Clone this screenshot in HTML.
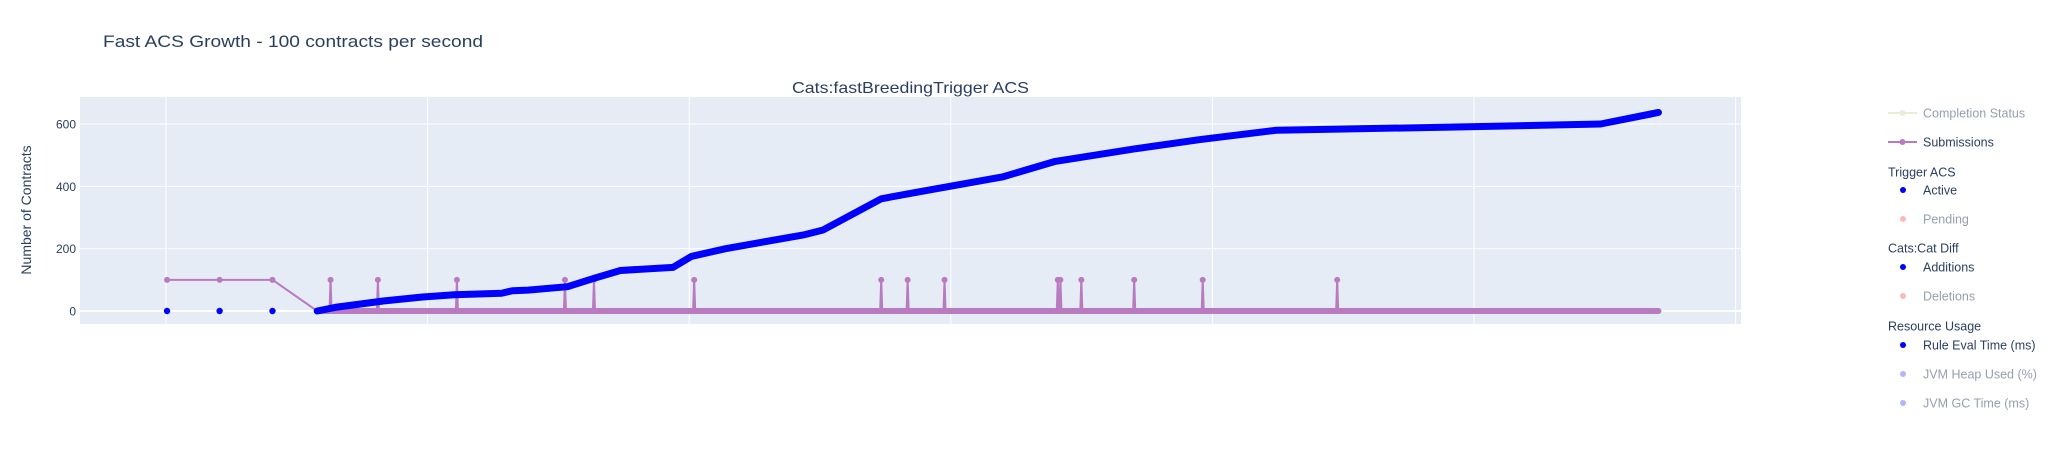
<!DOCTYPE html>
<html><head><meta charset="utf-8">
<style>
html,body{margin:0;padding:0;background:#fff;}
svg{display:block;font-family:"Liberation Sans",sans-serif;}
</style></head>
<body>
<svg id="chart" width="2063" height="471" viewBox="0 0 2063 471" xmlns="http://www.w3.org/2000/svg">
<text x="103" y="47" font-size="17" fill="#2a3f5f" textLength="380" lengthAdjust="spacingAndGlyphs">Fast ACS Growth - 100 contracts per second</text>
<text x="792" y="93" font-size="16" fill="#2a3f5f" textLength="237" lengthAdjust="spacingAndGlyphs">Cats:fastBreedingTrigger ACS</text>
<rect x="80" y="97" width="1661" height="227" fill="#e5ecf6"/>
<g id="grid"></g>
<g id="marks"></g>
<text transform="translate(31,210) rotate(-90)" text-anchor="middle" font-size="14" fill="#2a3f5f">Number of Contracts</text>
<g id="legend"></g>
</svg>
<script>
// data
const activeX = [0.004, 0.205, 0.407];
const activeStartY = [0, 0, 0];
const blueX = [0.578,0.649,0.83,0.981,1.102,1.283,1.324,1.384,1.535,1.636,1.737,1.938,2.008,2.139,2.442,2.512,2.734,2.895,3.197,3.399,3.701,3.953,4.245,4.91,5.484,5.705];
const blueY = [0,12,32,45,52,57,65,67,78,105,130,140,175,200,245,260,360,385,430,480,520,550,580,590,600,637];
const subX = [0.004, 0.205, 0.407, 0.578, 5.705];
const subY = [100, 100, 100, 0, 0];
const spikeX = [0.629,0.81,1.112,1.525,1.636,2.019,2.734,2.835,2.976,3.409,3.419,3.499,3.701,3.963,4.477];
const spikeY = [100,100,100,100,100,100,100,100,100,100,100,100,100,100,100];
const yTicks = [0,200,400,600];
const xGrid = [0,1,2,3,4,5,6];

const NS = "http://www.w3.org/2000/svg";
const X0 = 166, XU = 261.6;
const Y0 = 311, YU = 187/600;
const sx = v => X0 + v*XU;
const sy = v => Y0 - v*YU;
function mk(tag, attrs, parent){
  const e = document.createElementNS(NS, tag);
  for (const k in attrs) e.setAttribute(k, attrs[k]);
  parent.appendChild(e);
  return e;
}
const grid = document.getElementById('grid');
const marks = document.getElementById('marks');
const legend = document.getElementById('legend');

xGrid.forEach(v=>{
  const l = mk('line',{x1:sx(v),x2:sx(v),y1:97,y2:324,stroke:'#fff','stroke-width':1},grid);
  
  
});
yTicks.forEach(v=>{
  const l = mk('line',{x1:80,x2:1741,y1:sy(v),y2:sy(v),stroke:'#fff','stroke-width':v===0?2:1},grid);
  
  
  const t = mk('text',{x:76,y:sy(v)+4.5,'text-anchor':'end','font-size':12,fill:'#2a3f5f'},grid);
  t.textContent = v;
  
  
});

const purple = '#b87bbf';
let pts = subX.slice(0,4).map((x,i)=>[x,subY[i]]);
spikeX.forEach((x,i)=>{ pts.push([x-0.004,0]); pts.push([x,spikeY[i]]); pts.push([x+0.004,0]); });
pts.push([subX[4],subY[4]]);
const subLine = mk('polyline',{points:pts.map(p=>sx(p[0])+','+sy(p[1])).join(' '),fill:'none',stroke:purple,'stroke-width':2,'stroke-linejoin':'round'},marks);


const subBase = mk('line',{x1:sx(subX[3]),x2:sx(subX[4]),y1:sy(0),y2:sy(0),stroke:purple,'stroke-width':6,'stroke-linecap':'round'},marks);


subX.slice(0,3).forEach((x,i)=>{
  const c = mk('circle',{cx:sx(x),cy:sy(subY[i]),r:3,fill:purple},marks);
  
  
});
spikeX.forEach((x,i)=>{
  const c = mk('circle',{cx:sx(x),cy:sy(spikeY[i]),r:3,fill:purple},marks);
  
  
});
activeX.forEach((x,i)=>{
  const c = mk('circle',{cx:sx(x),cy:sy(activeStartY[i]),r:3.2,fill:'#0000ff'},marks);
  
  
});
const blue = mk('polyline',{points:blueX.map((x,i)=>sx(x)+','+sy(blueY[i])).join(' '),fill:'none',stroke:'#0000ff','stroke-width':7,'stroke-linejoin':'round','stroke-linecap':'round'},marks);



const items = [
  {t:'line',label:'Completion Status',y:113,color:'#d8d8b0',op:0.5},
  {t:'line',label:'Submissions',y:142,color:purple,op:1},
  {t:'title',label:'Trigger ACS',y:172},
  {t:'dot',label:'Active',y:190,color:'#0000ff',op:1},
  {t:'dot',label:'Pending',y:219,color:'#ff7070',op:0.5},
  {t:'title',label:'Cats:Cat Diff',y:248},
  {t:'dot',label:'Additions',y:267,color:'#0000ff',op:1},
  {t:'dot',label:'Deletions',y:296,color:'#ff7070',op:0.5},
  {t:'title',label:'Resource Usage',y:326},
  {t:'dot',label:'Rule Eval Time (ms)',y:345,color:'#0000ff',op:1},
  {t:'dot',label:'JVM Heap Used (%)',y:374,color:'#6a6aff',op:0.5},
  {t:'dot',label:'JVM GC Time (ms)',y:403,color:'#6a6aff',op:0.5}
];
items.forEach(it=>{
  const g = mk('g',{opacity:it.op||1},legend);
  
  
  if (it.t==='line'){
    mk('line',{x1:1888,x2:1917,y1:it.y,y2:it.y,stroke:it.color,'stroke-width':2},g);
    mk('circle',{cx:1902.5,cy:it.y,r:3,fill:it.color},g);
  } else if (it.t==='dot'){
    mk('circle',{cx:1903,cy:it.y,r:3,fill:it.color},g);
  }
  const tx = mk('text',{x: it.t==='title'?1888:1923, y:it.y+4.5,'font-size':12.5,fill:'#2a3f5f'},g);
  tx.textContent = it.label;
});
</script>
</body></html>
